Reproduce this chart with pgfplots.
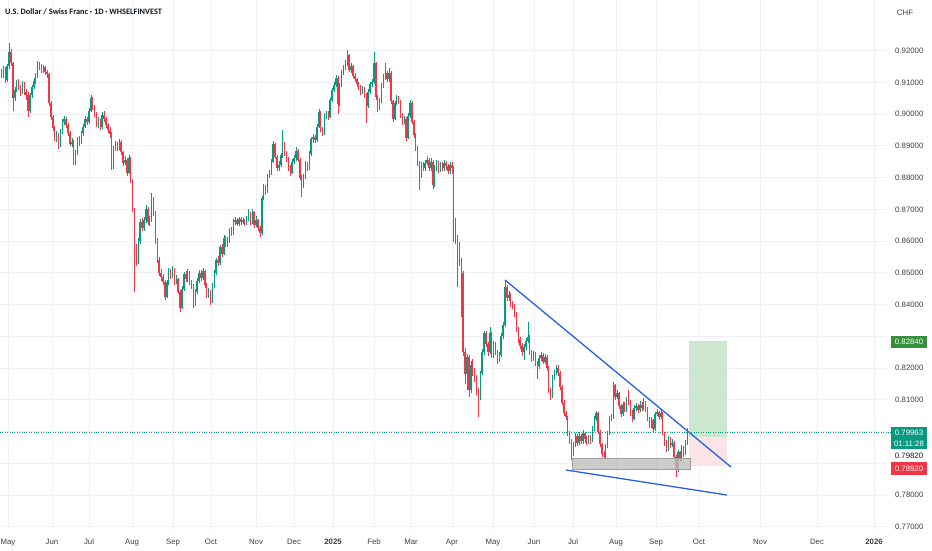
\documentclass[border=0pt]{standalone}
\usepackage{pgfplots}
\pgfplotsset{compat=1.18}
\usepackage{pgfplotstable}
\usepackage{fontspec}
\setmainfont{Liberation Sans}
\newfontfamily\titlefont{Carlito}
\definecolor{upc}{RGB}{8,153,129}
\definecolor{dnc}{RGB}{242,54,69}
\definecolor{gridc}{RGB}{238,240,245}
\definecolor{txt}{RGB}{60,62,70}
\definecolor{titlec}{RGB}{19,23,34}
\definecolor{tl}{RGB}{38,96,230}
\definecolor{greenz}{RGB}{204,231,205}
\definecolor{redz}{RGB}{252,227,231}
\definecolor{greenl}{RGB}{56,142,60}
\newcommand\tk{\fontsize{7.8}{9}\selectfont}
\pgfplotsset{candle/.style={only marks, mark=*, mark size=0pt, mark options={draw opacity=0, fill opacity=0}}}
\pgfplotstableread{
o h l c
0.9130 0.9142 0.9112 0.9125
0.9125 0.9150 0.9115 0.9140
0.9140 0.9148 0.9098 0.9108
0.9108 0.9158 0.9100 0.9150
0.9150 0.9224 0.9142 0.9196
0.9196 0.9205 0.9150 0.9160
0.9160 0.9165 0.9010 0.9050
0.9050 0.9085 0.9040 0.9075
0.9075 0.9108 0.9068 0.9098
0.9098 0.9110 0.9075 0.9085
0.9085 0.9092 0.9058 0.9070
0.9070 0.9105 0.9062 0.9095
0.9095 0.9102 0.9060 0.9068
0.9068 0.9078 0.9045 0.9060
0.9060 0.9068 0.8990 0.9010
0.9010 0.9066 0.9002 0.9060
0.9060 0.9092 0.9052 0.9085
0.9085 0.9112 0.9078 0.9105
0.9105 0.9130 0.9095 0.9120
0.9120 0.9168 0.9112 0.9160
0.9160 0.9165 0.9138 0.9150
0.9150 0.9158 0.9130 0.9140
0.9140 0.9155 0.9128 0.9148
0.9148 0.9152 0.9122 0.9132
0.9132 0.9140 0.9112 0.9125
0.9125 0.9130 0.9025 0.9035
0.9035 0.9040 0.8980 0.8990
0.8990 0.8998 0.8945 0.8955
0.8955 0.8962 0.8915 0.8925
0.8925 0.8945 0.8912 0.8935
0.8935 0.8940 0.8890 0.8900
0.8900 0.8952 0.8895 0.8945
0.8945 0.8985 0.8938 0.8975
0.8975 0.8995 0.8965 0.8985
0.8985 0.8990 0.8955 0.8965
0.8965 0.8972 0.8932 0.8940
0.8940 0.8946 0.8898 0.8905
0.8905 0.8925 0.8895 0.8912
0.8912 0.8918 0.8838 0.8845
0.8845 0.8888 0.8840 0.8880
0.8880 0.8928 0.8872 0.8920
0.8920 0.8930 0.8900 0.8910
0.8910 0.8948 0.8905 0.8940
0.8940 0.8968 0.8930 0.8960
0.8960 0.8995 0.8955 0.8985
0.8985 0.8992 0.8965 0.8975
0.8975 0.9018 0.8968 0.9010
0.9010 0.9060 0.9005 0.9050
0.9050 0.9055 0.9012 0.9020
0.9020 0.9028 0.8990 0.9000
0.9000 0.9005 0.8958 0.8965
0.8965 0.8990 0.8955 0.8980
0.8980 0.8985 0.8950 0.8960
0.8960 0.9005 0.8952 0.8998
0.8998 0.9008 0.8975 0.8985
0.8985 0.8992 0.8955 0.8965
0.8965 0.8972 0.8940 0.8950
0.8950 0.8958 0.8925 0.8938
0.8938 0.8942 0.8825 0.8833
0.8833 0.8898 0.8828 0.8890
0.8890 0.8915 0.8882 0.8905
0.8905 0.8912 0.8885 0.8895
0.8895 0.8920 0.8888 0.8912
0.8912 0.8918 0.8870 0.8880
0.8880 0.8885 0.8836 0.8845
0.8845 0.8868 0.8838 0.8855
0.8855 0.8860 0.8805 0.8815
0.8815 0.8870 0.8810 0.8862
0.8862 0.8866 0.8782 0.8790
0.8790 0.8795 0.8690 0.8700
0.8700 0.8705 0.8440 0.8580
0.8580 0.8590 0.8520 0.8535
0.8535 0.8610 0.8528 0.8600
0.8600 0.8668 0.8592 0.8660
0.8660 0.8672 0.8630 0.8640
0.8640 0.8675 0.8632 0.8665
0.8665 0.8712 0.8658 0.8700
0.8700 0.8706 0.8650 0.8660
0.8660 0.8678 0.8648 0.8665
0.8665 0.8752 0.8660 0.8730
0.8730 0.8738 0.8680 0.8690
0.8690 0.8695 0.8590 0.8600
0.8600 0.8608 0.8530 0.8540
0.8540 0.8550 0.8490 0.8500
0.8500 0.8512 0.8475 0.8488
0.8488 0.8495 0.8460 0.8470
0.8470 0.8478 0.8415 0.8425
0.8425 0.8478 0.8420 0.8470
0.8470 0.8515 0.8462 0.8505
0.8505 0.8512 0.8480 0.8490
0.8490 0.8520 0.8482 0.8510
0.8510 0.8515 0.8462 0.8470
0.8470 0.8492 0.8465 0.8480
0.8480 0.8485 0.8432 0.8440
0.8440 0.8445 0.8376 0.8390
0.8390 0.8458 0.8385 0.8450
0.8450 0.8502 0.8442 0.8495
0.8495 0.8505 0.8470 0.8480
0.8480 0.8512 0.8472 0.8500
0.8500 0.8506 0.8462 0.8470
0.8470 0.8478 0.8450 0.8460
0.8460 0.8465 0.8390 0.8400
0.8400 0.8448 0.8395 0.8440
0.8440 0.8482 0.8432 0.8475
0.8475 0.8510 0.8468 0.8500
0.8500 0.8508 0.8475 0.8485
0.8485 0.8515 0.8478 0.8505
0.8505 0.8510 0.8452 0.8460
0.8460 0.8468 0.8420 0.8430
0.8430 0.8452 0.8422 0.8440
0.8440 0.8446 0.8400 0.8410
0.8410 0.8468 0.8405 0.8460
0.8460 0.8508 0.8452 0.8500
0.8500 0.8548 0.8492 0.8540
0.8540 0.8552 0.8520 0.8530
0.8530 0.8588 0.8525 0.8580
0.8580 0.8590 0.8550 0.8560
0.8560 0.8618 0.8555 0.8610
0.8610 0.8615 0.8580 0.8590
0.8590 0.8612 0.8582 0.8600
0.8600 0.8642 0.8595 0.8635
0.8635 0.8645 0.8615 0.8625
0.8625 0.8668 0.8620 0.8660
0.8660 0.8675 0.8652 0.8665
0.8665 0.8672 0.8648 0.8655
0.8655 0.8676 0.8648 0.8668
0.8668 0.8675 0.8652 0.8660
0.8660 0.8672 0.8654 0.8665
0.8665 0.8670 0.8648 0.8658
0.8658 0.8680 0.8650 0.8670
0.8670 0.8700 0.8662 0.8685
0.8685 0.8690 0.8652 0.8660
0.8660 0.8702 0.8655 0.8690
0.8690 0.8695 0.8642 0.8650
0.8650 0.8678 0.8645 0.8665
0.8665 0.8670 0.8630 0.8640
0.8640 0.8648 0.8612 0.8625
0.8625 0.8742 0.8620 0.8735
0.8735 0.8780 0.8728 0.8770
0.8770 0.8775 0.8745 0.8755
0.8755 0.8812 0.8750 0.8805
0.8805 0.8825 0.8798 0.8815
0.8815 0.8858 0.8808 0.8850
0.8850 0.8915 0.8845 0.8905
0.8905 0.8910 0.8858 0.8865
0.8865 0.8870 0.8820 0.8830
0.8830 0.8852 0.8822 0.8840
0.8840 0.8878 0.8832 0.8870
0.8870 0.8950 0.8862 0.8905
0.8905 0.8912 0.8868 0.8875
0.8875 0.8882 0.8850 0.8860
0.8860 0.8866 0.8822 0.8830
0.8830 0.8838 0.8805 0.8815
0.8815 0.8858 0.8810 0.8850
0.8850 0.8872 0.8842 0.8860
0.8860 0.8895 0.8852 0.8885
0.8885 0.8890 0.8848 0.8855
0.8855 0.8860 0.8792 0.8800
0.8800 0.8808 0.8739 0.8775
0.8775 0.8810 0.8768 0.8800
0.8800 0.8852 0.8795 0.8845
0.8845 0.8850 0.8820 0.8830
0.8830 0.8882 0.8825 0.8875
0.8875 0.8928 0.8868 0.8920
0.8920 0.8938 0.8910 0.8928
0.8928 0.8935 0.8908 0.8918
0.8918 0.8968 0.8912 0.8960
0.8960 0.9015 0.8955 0.9005
0.9005 0.9010 0.8942 0.8950
0.8950 0.8958 0.8930 0.8940
0.8940 0.9002 0.8935 0.8995
0.8995 0.9010 0.8985 0.9000
0.9000 0.9008 0.8982 0.8992
0.8992 0.9052 0.8988 0.9045
0.9045 0.9082 0.9038 0.9075
0.9075 0.9100 0.9068 0.9090
0.9090 0.9122 0.9085 0.9115
0.9115 0.9120 0.9000 0.9030
0.9030 0.9098 0.9025 0.9090
0.9090 0.9138 0.9085 0.9130
0.9130 0.9155 0.9122 0.9145
0.9145 0.9170 0.9138 0.9160
0.9160 0.9202 0.9152 0.9185
0.9185 0.9190 0.9132 0.9140
0.9140 0.9162 0.9130 0.9150
0.9150 0.9155 0.9112 0.9120
0.9120 0.9128 0.9100 0.9110
0.9110 0.9115 0.9085 0.9095
0.9095 0.9102 0.9075 0.9085
0.9085 0.9092 0.9060 0.9070
0.9070 0.9088 0.9062 0.9078
0.9078 0.9085 0.9050 0.9060
0.9060 0.9065 0.8972 0.9025
0.9025 0.9078 0.9018 0.9070
0.9070 0.9102 0.9062 0.9095
0.9095 0.9110 0.9085 0.9100
0.9100 0.9195 0.9095 0.9160
0.9160 0.9165 0.9045 0.9054
0.9054 0.9060 0.9005 0.9020
0.9020 0.9050 0.9012 0.9040
0.9040 0.9098 0.9035 0.9090
0.9090 0.9125 0.9082 0.9115
0.9115 0.9160 0.9108 0.9128
0.9128 0.9135 0.9100 0.9110
0.9110 0.9145 0.9102 0.9130
0.9130 0.9135 0.9032 0.9040
0.9040 0.9045 0.8975 0.8985
0.8985 0.9042 0.8980 0.9035
0.9035 0.9060 0.9028 0.9050
0.9050 0.9058 0.9030 0.9040
0.9040 0.9045 0.8988 0.8995
0.8995 0.9002 0.8965 0.8975
0.8975 0.8995 0.8968 0.8985
0.8985 0.8990 0.8915 0.8925
0.8925 0.9002 0.8920 0.8995
0.8995 0.9045 0.8988 0.9035
0.9035 0.9040 0.8968 0.8975
0.8975 0.8982 0.8925 0.8935
0.8935 0.8940 0.8885 0.8895
0.8895 0.8900 0.8835 0.8845
0.8845 0.8852 0.8762 0.8805
0.8805 0.8848 0.8798 0.8840
0.8840 0.8850 0.8820 0.8830
0.8830 0.8855 0.8822 0.8845
0.8845 0.8868 0.8838 0.8855
0.8855 0.8862 0.8822 0.8830
0.8830 0.8860 0.8822 0.8850
0.8850 0.8855 0.8765 0.8775
0.8775 0.8838 0.8770 0.8830
0.8830 0.8855 0.8822 0.8845
0.8845 0.8852 0.8815 0.8825
0.8825 0.8850 0.8818 0.8840
0.8840 0.8848 0.8820 0.8830
0.8830 0.8855 0.8822 0.8845
0.8845 0.8852 0.8825 0.8835
0.8835 0.8842 0.8810 0.8820
0.8820 0.8850 0.8812 0.8840
0.8840 0.8848 0.8812 0.8830
0.8830 0.8835 0.8598 0.8605
0.8605 0.8672 0.8590 0.8610
0.8610 0.8620 0.8455 0.8590
0.8590 0.8598 0.8520 0.8540
0.8540 0.8548 0.8360 0.8500
0.8500 0.8505 0.8238 0.8250
0.8250 0.8262 0.8150 0.8180
0.8180 0.8245 0.8130 0.8235
0.8235 0.8240 0.8110 0.8130
0.8130 0.8222 0.8120 0.8210
0.8210 0.8228 0.8175 0.8190
0.8190 0.8200 0.8155 0.8170
0.8170 0.8178 0.8115 0.8130
0.8130 0.8138 0.8046 0.8110
0.8110 0.8192 0.8100 0.8185
0.8185 0.8260 0.8178 0.8250
0.8250 0.8318 0.8242 0.8310
0.8310 0.8318 0.8265 0.8275
0.8275 0.8282 0.8238 0.8250
0.8250 0.8330 0.8245 0.8310
0.8310 0.8315 0.8230 0.8240
0.8240 0.8285 0.8232 0.8275
0.8275 0.8282 0.8240 0.8250
0.8250 0.8258 0.8212 0.8225
0.8225 0.8252 0.8218 0.8240
0.8240 0.8310 0.8235 0.8300
0.8300 0.8345 0.8292 0.8335
0.8335 0.8477 0.8330 0.8455
0.8455 0.8462 0.8410 0.8420
0.8420 0.8442 0.8412 0.8430
0.8430 0.8436 0.8392 0.8400
0.8400 0.8410 0.8385 0.8395
0.8395 0.8402 0.8360 0.8370
0.8370 0.8378 0.8312 0.8320
0.8320 0.8328 0.8280 0.8290
0.8290 0.8298 0.8260 0.8270
0.8270 0.8278 0.8238 0.8250
0.8250 0.8275 0.8225 0.8265
0.8265 0.8295 0.8258 0.8285
0.8285 0.8345 0.8278 0.8298
0.8298 0.8305 0.8242 0.8250
0.8250 0.8258 0.8220 0.8230
0.8230 0.8255 0.8222 0.8245
0.8245 0.8252 0.8205 0.8215
0.8215 0.8222 0.8165 0.8205
0.8205 0.8240 0.8198 0.8230
0.8230 0.8250 0.8222 0.8240
0.8240 0.8248 0.8212 0.8220
0.8220 0.8245 0.8212 0.8235
0.8235 0.8240 0.8192 0.8200
0.8200 0.8205 0.8122 0.8130
0.8130 0.8138 0.8100 0.8110
0.8110 0.8178 0.8105 0.8170
0.8170 0.8195 0.8162 0.8185
0.8185 0.8210 0.8178 0.8200
0.8200 0.8208 0.8175 0.8185
0.8185 0.8190 0.8132 0.8140
0.8140 0.8145 0.8082 0.8090
0.8090 0.8098 0.8048 0.8058
0.8058 0.8065 0.8035 0.8045
0.8045 0.8050 0.7985 0.7995
0.7995 0.8002 0.7960 0.7970
0.7970 0.7978 0.7910 0.7930
0.7930 0.7968 0.7922 0.7960
0.7960 0.7995 0.7952 0.7985
0.7985 0.7992 0.7955 0.7965
0.7965 0.7998 0.7958 0.7985
0.7985 0.7992 0.7960 0.7970
0.7970 0.8005 0.7962 0.7995
0.7995 0.8000 0.7965 0.7975
0.7975 0.7985 0.7958 0.7968
0.7968 0.7990 0.7960 0.7980
0.7980 0.7988 0.7962 0.7972
0.7972 0.8018 0.7968 0.8010
0.8010 0.8048 0.8002 0.8040
0.8040 0.8065 0.8032 0.8058
0.8058 0.8062 0.7992 0.8000
0.8000 0.8005 0.7950 0.7960
0.7960 0.7965 0.7920 0.7930
0.7930 0.7940 0.7915 0.7925
0.7925 0.7962 0.7918 0.7955
0.7955 0.8002 0.7948 0.7995
0.7995 0.8048 0.7990 0.8040
0.8040 0.8055 0.8032 0.8045
0.8045 0.8155 0.8040 0.8145
0.8145 0.8150 0.8100 0.8110
0.8110 0.8130 0.8102 0.8120
0.8120 0.8125 0.8070 0.8080
0.8080 0.8088 0.8045 0.8055
0.8055 0.8092 0.8048 0.8085
0.8085 0.8092 0.8060 0.8070
0.8070 0.8110 0.8062 0.8100
0.8100 0.8131 0.8085 0.8095
0.8095 0.8100 0.8050 0.8060
0.8060 0.8068 0.8030 0.8040
0.8040 0.8082 0.8035 0.8075
0.8075 0.8090 0.8066 0.8080
0.8080 0.8088 0.8058 0.8068
0.8068 0.8095 0.8060 0.8085
0.8085 0.8092 0.8065 0.8075
0.8075 0.8105 0.8068 0.8090
0.8090 0.8095 0.8060 0.8070
0.8070 0.8076 0.8032 0.8040
0.8040 0.8046 0.8010 0.8020
0.8020 0.8045 0.8012 0.8035
0.8035 0.8040 0.8000 0.8008
0.8008 0.8062 0.8002 0.8055
0.8055 0.8070 0.8048 0.8060
0.8060 0.8066 0.8035 0.8045
0.8045 0.8068 0.8038 0.8058
0.8058 0.8062 0.7988 0.7995
0.7995 0.8000 0.7955 0.7965
0.7965 0.7972 0.7935 0.7945
0.7945 0.7985 0.7940 0.7975
0.7975 0.7982 0.7948 0.7958
0.7958 0.7975 0.7950 0.7965
0.7965 0.7970 0.7912 0.7920
0.7920 0.7925 0.7857 0.7880
0.7880 0.7942 0.7872 0.7935
0.7935 0.7940 0.7905 0.7915
0.7915 0.7958 0.7908 0.7950
0.7950 0.7955 0.7920 0.7930
0.7930 0.7972 0.7925 0.7964
0.7964 0.8010 0.7958 0.79963
}\candles

\begin{document}
\begin{tikzpicture}
\useasboundingbox (0pt,-20pt) rectangle (932pt,530pt);
\begin{axis}[
  at={(0pt,0pt)}, anchor=south west,
  scale only axis, width=886pt, height=530pt,
  xmin=0, xmax=886, ymin=0.76898, ymax=0.93591,
  clip=false,
  axis line style={draw=none},
  tick style={draw=none},
  xtick={8,52,89,132,173,211,256,294,333,374,411,452,493,534,573,616,656,699,760,817,874},
  xticklabels={May,Jun,Jul,Aug,Sep,Oct,Nov,Dec,\textbf{2025},Feb,Mar,Apr,May,Jun,Jul,Aug,Sep,Oct,Nov,Dec,\textbf{2026}},
  ytick={0.77,0.78,0.79,0.80,0.81,0.82,0.83,0.84,0.85,0.86,0.87,0.88,0.89,0.90,0.91,0.92},
  yticklabels={0.77000,0.78000,,,0.81000,0.82000,,0.84000,0.85000,0.86000,0.87000,0.88000,0.89000,0.90000,0.91000,0.92000},
  yticklabel pos=right,
  grid=major,
  major grid style={draw=gridc, line width=0.7pt},
  xticklabel style={font=\tk, text=txt, anchor=base, inner sep=0pt, yshift=-14pt},
  yticklabel style={font=\tk, text=txt, anchor=base west, inner sep=0pt, xshift=9pt, yshift=-2.8pt},
]
% position zones
\fill[greenz] (axis cs:689,0.7982) rectangle (axis cs:727,0.8284);
\fill[redz] (axis cs:689,0.7892) rectangle (axis cs:727,0.7982);
\draw[upc, line width=0.6pt, dash pattern=on 0.8pt off 1.6pt] (axis cs:0,0.79963) -- (axis cs:891,0.79963);
% candles: wicks
\addplot[upc, candle, error bars/.cd, y dir=plus, y explicit, error mark=none,
  error bar style={line width=0.6pt, draw=upc}]
  table[x expr=1.5+1.9*\coordindex, y expr={\thisrow{c}>=\thisrow{o} ? \thisrow{l} : nan},
        y error plus expr={\thisrow{h}-\thisrow{l}}] {\candles};
\addplot[dnc, candle, error bars/.cd, y dir=plus, y explicit, error mark=none,
  error bar style={line width=0.6pt, draw=dnc}]
  table[x expr=1.5+1.9*\coordindex, y expr={\thisrow{c}<\thisrow{o} ? \thisrow{l} : nan},
        y error plus expr={\thisrow{h}-\thisrow{l}}] {\candles};
% candles: bodies
\addplot[upc, candle, error bars/.cd, y dir=plus, y explicit, error mark=none,
  error bar style={line width=1.5pt, draw=upc}]
  table[x expr=1.5+1.9*\coordindex, y expr={\thisrow{c}>=\thisrow{o} ? \thisrow{o} : nan},
        y error plus expr={\thisrow{c}-\thisrow{o}}] {\candles};
\addplot[dnc, candle, error bars/.cd, y dir=plus, y explicit, error mark=none,
  error bar style={line width=1.5pt, draw=dnc}]
  table[x expr=1.5+1.9*\coordindex, y expr={\thisrow{c}<\thisrow{o} ? \thisrow{c} : nan},
        y error plus expr={\thisrow{o}-\thisrow{c}}] {\candles};
% support box
\filldraw[fill=gray!50, draw=gray!75, fill opacity=0.8, line width=0.6pt] (axis cs:572,0.78819) rectangle (axis cs:690,0.79165);
% trendlines
\addplot[tl, line width=1.3pt] coordinates {(505,0.84772) (731,0.78882)};
\addplot[tl, line width=1.3pt] coordinates {(566,0.78787) (727,0.78000)};
% right-hand labels
\fill[greenl] (axis cs:891,0.826299) rectangle (axis cs:927,0.830079);
\node[text=white, font=\tk, inner sep=0pt] at (axis cs:909,0.828189) {0.82840};
\fill[upc] (axis cs:891,0.794488) rectangle (axis cs:927,0.801417);
\node[text=white, font=\tk, inner sep=0pt] at (axis cs:909,0.79969) {0.79963};
\node[text=white, font=\tk, inner sep=0pt] at (axis cs:909,0.79622) {01:11:28};
\node[text=titlec, font=\tk, inner sep=0pt] at (axis cs:909,0.792283) {0.79820};
\fill[dnc] (axis cs:891,0.786457) rectangle (axis cs:927,0.790394);
\node[text=white, font=\tk, inner sep=0pt] at (axis cs:909,0.788409) {0.78920};
\node[text=txt, font=\tk, inner sep=0pt] at (axis cs:905,0.931811) {CHF};
\node[anchor=west, inner sep=0pt, text=titlec, font={\titlefont\bfseries\fontsize{8.3}{10}\selectfont}] at (axis cs:5,0.932126) {U.S. Dollar / Swiss Franc · 1D · WHSELFINVEST};
\end{axis}
\end{tikzpicture}
\end{document}
